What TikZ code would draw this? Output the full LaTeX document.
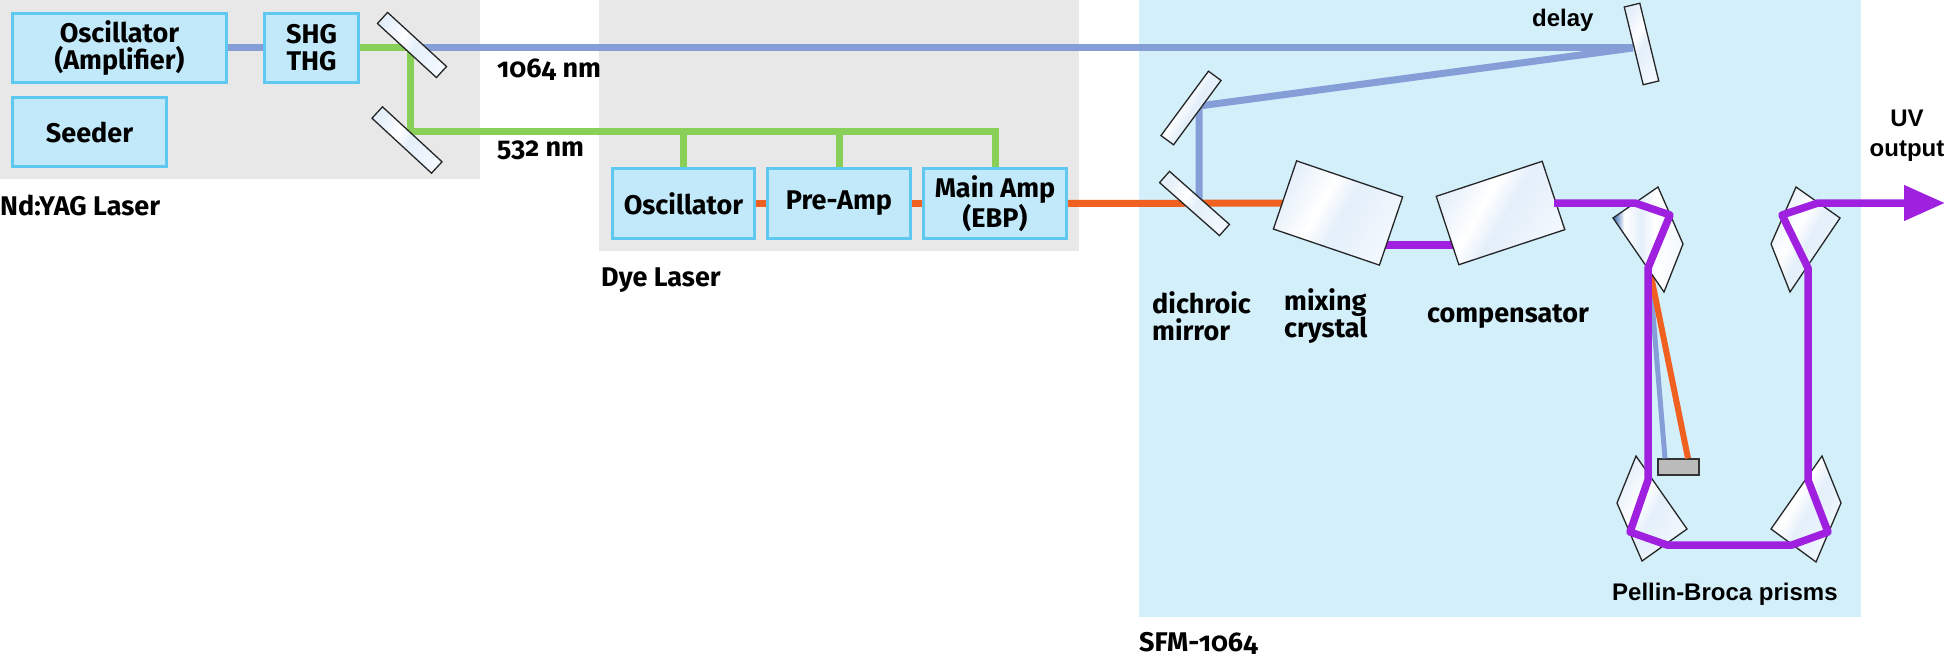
\documentclass[tikz,border=0pt]{standalone}
\usepackage{fontspec}
\setmainfont{Fira Sans}
\newfontfamily\osnum{Fira Sans}[Numbers=OldStyle]
\newfontfamily\arialfont{Liberation Sans}
\usetikzlibrary{arrows.meta}
\definecolor{graybg}{HTML}{E8E8E8}
\definecolor{sfmbg}{HTML}{D2EFFA}
\definecolor{boxfill}{HTML}{C2E9F9}
\definecolor{boxdraw}{HTML}{5EC8F0}
\definecolor{bblue}{HTML}{869ED8}
\definecolor{bgreen}{HTML}{88D058}
\definecolor{borange}{HTML}{F06020}
\definecolor{bpurple}{HTML}{A020E0}
\definecolor{dumpgray}{HTML}{BBBBBB}
\definecolor{glassA}{HTML}{E4EFFA}
\definecolor{glassB}{HTML}{F2F8FE}
\definecolor{prismdark}{HTML}{2F62B0}
\pgfdeclarehorizontalshading{glass}{100bp}{color(0bp)=(glassA); color(25bp)=(glassA); color(42bp)=(white); color(52bp)=(glassA); color(75bp)=(glassB); color(100bp)=(glassB)}
\pgfdeclarehorizontalshading{glassdark}{100bp}{color(0bp)=(prismdark); color(25bp)=(prismdark); color(33bp)=(white); color(45bp)=(glassA); color(55bp)=(white); color(75bp)=(glassB); color(100bp)=(glassB)}
\tikzset{
  unitbox/.style={draw=boxdraw, fill=boxfill, line width=3pt, align=center, inner sep=0pt,
    font=\fontsize{27}{27}\selectfont\bfseries},
  lbl/.style={inner sep=0pt, font=\fontsize{27}{27}\selectfont\bfseries, align=left},
  numlbl/.style={inner sep=0pt, font=\osnum\fontsize{27}{27}\selectfont\bfseries},
  arl/.style={inner sep=0pt, font=\arialfont\fontsize{24}{30}\selectfont\bfseries},
  beam/.style={line width=7pt},
  bluebeam/.style={beam, draw=bblue},
  greenbeam/.style={beam, draw=bgreen},
  orangebeam/.style={beam, draw=borange},
  purplebeam/.style={line width=7.5pt, draw=bpurple, line join=round},
  mirrorst/.style={draw=black!85, line width=1.3pt, shade, shading=glass, shading angle=-30,
    rectangle, inner sep=0pt},
  prismst/.style={draw=black!85, line width=1.3pt, shade, shading=glass, shading angle=-30},
  dumpst/.style={draw=black!80, line width=1.3pt, fill=dumpgray, inner sep=0pt,
    minimum width=41pt, minimum height=16pt}
}
\begin{document}
\begin{tikzpicture}[x=1pt,y=-1pt]
\useasboundingbox (0,0) rectangle (1946,658);
% backgrounds
\fill[graybg] (0,0) rectangle (480,179);
\fill[graybg] (599,0) rectangle (1079,251);
\fill[sfmbg] (1139,0) rectangle (1861,617);
% Nd:YAG units
\node[unitbox, minimum width=214pt, minimum height=69pt] (osc) at (119.5,48) {Oscillator\\(Amplifier)};
\node[unitbox, minimum width=94pt, minimum height=69pt] (shg) at (311.5,48) {SHG\\THG};
\node[unitbox, minimum width=154pt, minimum height=69pt] (seed) at (89.5,132) {Seeder};
% Dye laser units
\node[unitbox, minimum width=142pt, minimum height=70pt] (dosc) at (683.5,203.5) {Oscillator};
\node[unitbox, minimum width=143pt, minimum height=70pt] (pre) at (839,203.5) {Pre-Amp};
\node[unitbox, minimum width=143pt, minimum height=70pt] (main) at (995,203.5) {Main Amp\\(EBP)};
% coordinates
\coordinate (g1) at (410,48);
\coordinate (g2) at (410,132);
\coordinate (g3) at (995,132);
\coordinate (b0) at (412,48);
\coordinate (dl) at (1633,48);
\coordinate (b2) at (1199,106);
\coordinate (b3) at (1199,203);
\coordinate (mixin) at (1300,203);
\coordinate (pe) at (1649,266);
% beams in lasers
\draw[bluebeam] (osc.east) -- (shg.west);
\draw[greenbeam] (shg.east) -- (g1) -- (g2) -- (g3) -- (main.north);
\draw[greenbeam] (g2 -| dosc.north) -- (dosc.north);
\draw[greenbeam] (g2 -| pre.north) -- (pre.north);
\draw[orangebeam] (dosc.east) -- (pre.west);
\draw[orangebeam] (pre.east) -- (main.west);
% 1064 nm path
\draw[bluebeam] (b0) -- (dl);
\draw[bluebeam] (dl) -- (b2) -- (b3);
\draw[orangebeam] (main.east) -- (mixin);
\draw[purplebeam] (1380,245) -- (1460,245);
% beam dump
\node[dumpst] (dump) at (1678.5,467) {};
\draw[line width=5pt, draw=bblue] (pe) -- ([xshift=-13.5pt]dump.north);
\draw[line width=6pt, draw=borange] (pe) -- ([xshift=9.5pt]dump.north);
% prisms
\draw[draw=black!85, line width=1.3pt, shade, shading=glassdark] (1658,187) -- (1683,244) -- (1664,292) -- (1613,218) -- cycle;
\draw[prismst] (1796,187) -- (1840,218) -- (1790,292) -- (1771,244) -- cycle;
\draw[prismst] (1636,456) -- (1687,529) -- (1642,561) -- (1617,503) -- cycle;
\draw[prismst] (1822,456) -- (1841,503) -- (1816,562) -- (1771,529) -- cycle;
% crystals
\node[mirrorst, minimum width=112pt, minimum height=72pt, rotate=-18.8] (mix) at (1338,213) {};
\node[mirrorst, minimum width=111.6pt, minimum height=72pt, rotate=18.3] (comp) at (1500.5,213) {};
% UV path
\draw[purplebeam, -{Triangle[length=41pt,width=34pt]}] (comp.east |- 0,203) -- (1635,203) -- (1670,215) -- (1648,268) -- (1648,480) -- (1630,532) -- (1667,545) -- (1792,545) -- (1828,532) -- (1808,480) -- (1808,268) -- (1782,215) -- (1818,203) -- (1945,203);
% mirrors
\node[mirrorst, minimum width=80pt, minimum height=15pt, rotate=-42.5] (m1) at (412,45) {};
\node[mirrorst, minimum width=81pt, minimum height=15.5pt, rotate=-42.7] (m2) at (407,140) {};
\node[mirrorst, minimum width=80pt, minimum height=15.6pt, rotate=53.6] (m3) at (1191,108) {};
\node[mirrorst, minimum width=80pt, minimum height=15pt, rotate=-41.5] (dich) at (1194.5,203.5) {};
\node[mirrorst, minimum width=80pt, minimum height=16pt, rotate=-76.3] (delay) at (1641.5,44) {};
% labels
\node[lbl, anchor=base west] (ndyag) at (0,215) {Nd:YAG Laser};
\node[lbl, anchor=base west] (dyel) at (601,286) {Dye Laser};
\node[numlbl, anchor=base west] (l1064) at (497,78) {1064 nm};
\node[numlbl, anchor=base west] (l532) at (497,157) {532 nm};
\node[numlbl, anchor=base west] (lsfm) at (1139,651) {SFM-1064};
\node[lbl, anchor=base west] (ldich) at (1152,340) {dichroic\\mirror};
\node[lbl, anchor=base west] (lmix) at (1284,337) {mixing\\crystal};
\node[lbl, anchor=base west] (lcomp) at (1427,322) {compensator};
\node[arl, anchor=base west] (ldelay) at (1532,27) {delay};
\node[arl, anchor=base, align=center] (luv) at (1907,157) {UV\\output};
\node[arl, anchor=base west] (lpb) at (1612,600) {Pellin-Broca prisms};
\end{tikzpicture}
\end{document}
